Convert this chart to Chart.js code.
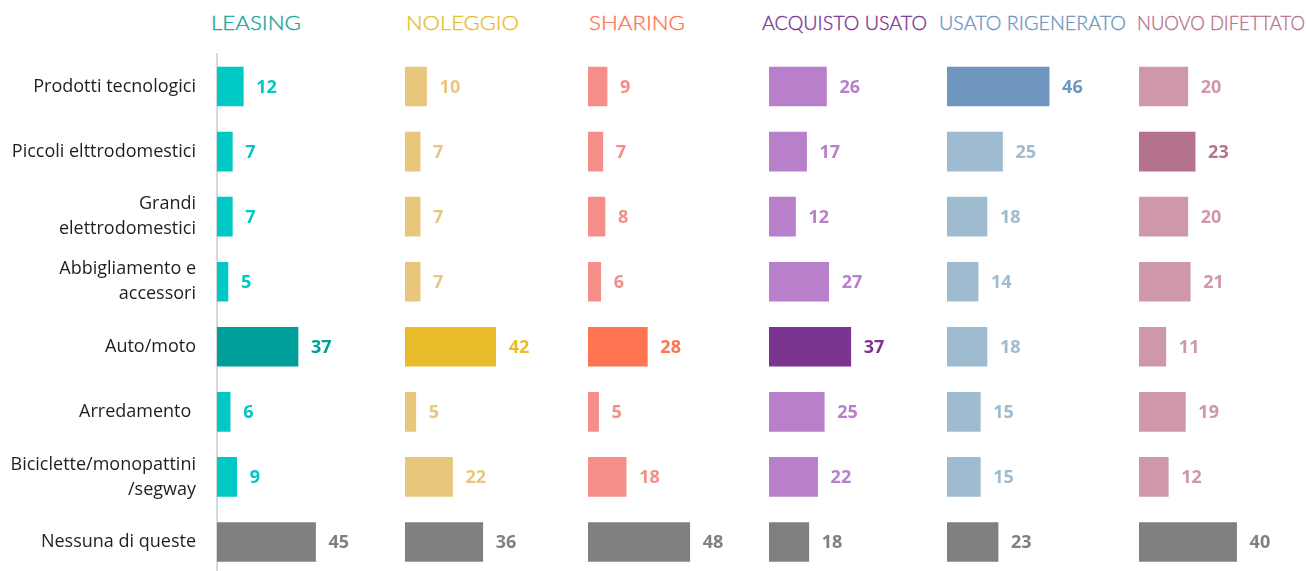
<!DOCTYPE html>
<html><head><meta charset="utf-8">
<script src="https://cdn.jsdelivr.net/npm/chart.js@4"></script>
<style>
html,body{margin:0;padding:0;width:1306px;height:571px;overflow:hidden;background:#fff;}
canvas{position:absolute;top:0;}
.hdr{position:absolute;top:8px;font-family:Lato,"Open Sans",sans-serif;font-weight:300;font-size:20.5px;line-height:28px;white-space:nowrap;transform-origin:0 0;-webkit-text-stroke:0.35px currentColor;}
</style></head><body>
<div id="root"></div>
<script>
// ---- data ----
const categories = [
  'Prodotti tecnologici',
  'Piccoli elttrodomestici',
  ['Grandi', 'elettrodomestici'],
  ['Abbigliamento e', 'accessori'],
  'Auto/moto',
  'Arredamento ',
  ['Biciclette/monopattini', '/segway'],
  'Nessuna di queste'
];
const panelTitles = ['LEASING', 'NOLEGGIO', 'SHARING', 'ACQUISTO USATO', 'USATO RIGENERATO', 'NUOVO DIFETTATO'];
const leasing    = [12, 7, 7, 5, 37, 6, 9, 45];
const noleggio   = [10, 7, 7, 7, 42, 5, 22, 36];
const sharing    = [9, 7, 8, 6, 28, 5, 18, 48];
const acquisto   = [26, 17, 12, 27, 37, 25, 22, 18];
const rigenerato = [46, 25, 18, 14, 18, 15, 15, 23];
const difettato  = [20, 23, 20, 21, 11, 19, 12, 40];
const seriesList = [leasing, noleggio, sharing, acquisto, rigenerato, difettato];

// ---- styles / layout ----
const GRAY = '#808080';
const panelStyle = [
  {left: 0,    plotLeft: 217, ppu: 2.19, normal: '#00C8C4', strong: '#009E98', strongIdx: 4, title: '#1BA39C', tx: 211, tw: 90},
  {left: 405,  plotLeft: 0,   ppu: 2.16, normal: '#E8C77D', strong: '#E9BC2C', strongIdx: 4, title: '#E9BC2C', tx: 406, tw: 113},
  {left: 588,  plotLeft: 0,   ppu: 2.12, normal: '#F58E88', strong: '#FF7552', strongIdx: 4, title: '#FF7552', tx: 589, tw: 96},
  {left: 769,  plotLeft: 0,   ppu: 2.21, normal: '#B87FCB', strong: '#7B3590', strongIdx: 4, title: '#7B3590', tx: 762, tw: 165},
  {left: 947,  plotLeft: 0,   ppu: 2.22, normal: '#9FBBD0', strong: '#6E96BE', strongIdx: 0, title: '#6E96BE', tx: 939, tw: 187},
  {left: 1139, plotLeft: 0,   ppu: 2.44, normal: '#CF97AB', strong: '#B5728D', strongIdx: 1, title: '#B5728D', tx: 1137, tw: 168}
];
const PLOT_W = 165;

const valueLabels = {
  id: 'valueLabels',
  afterDatasetsDraw(chart) {
    const ctx = chart.ctx;
    const ds = chart.data.datasets[0];
    const meta = chart.getDatasetMeta(0);
    ctx.save();
    ctx.font = 'bold 18px "Open Sans"';
    ctx.textBaseline = 'middle';
    ctx.textAlign = 'left';
    meta.data.forEach((bar, i) => {
      ctx.fillStyle = ds.backgroundColor[i];
      ctx.fillText(String(ds.data[i]), bar.x + 13, bar.y + 1);
    });
    ctx.restore();
  }
};

const root = document.getElementById('root');
panelStyle.forEach((st, p) => {
  const hdr = document.createElement('div');
  hdr.className = 'hdr';
  hdr.textContent = panelTitles[p];
  hdr.style.left = st.tx + 'px';
  hdr.style.color = st.title;
  root.appendChild(hdr);
  const w = hdr.getBoundingClientRect().width;
  hdr.style.transform = 'scaleX(' + (st.tw / w) + ')';

  const cv = document.createElement('canvas');
  const cw = st.plotLeft + PLOT_W;
  cv.width = cw; cv.height = 580;
  cv.style.left = st.left + 'px';
  cv.style.width = cw + 'px'; cv.style.height = '580px';
  root.appendChild(cv);

  const data = seriesList[p];
  const colors = data.map((v, i) => i === categories.length - 1 ? GRAY : (i === st.strongIdx ? st.strong : st.normal));

  new Chart(cv, {
    type: 'bar',
    data: {
      labels: categories,
      datasets: [{data: data, backgroundColor: colors, barThickness: 39, borderWidth: 0}]
    },
    options: {
      indexAxis: 'y',
      responsive: false,
      animation: false,
      layout: {padding: {top: 54, bottom: 5.5, left: 0, right: 0}},
      plugins: {legend: {display: false}, tooltip: {enabled: false}, title: {display: false}},
      scales: {
        x: {display: false, min: 0, max: PLOT_W / st.ppu},
        y: {
          display: p === 0,
          grid: {display: false, drawTicks: false},
          border: {display: true, color: '#d9d9d9', width: 2},
          ticks: {padding: 21, color: '#1f1f1f', font: {family: 'Open Sans', size: 18, lineHeight: 1.39}},
          afterFit: (s) => { s.width = st.plotLeft; s.paddingTop = 0; s.paddingBottom = 0; }
        }
      }
    },
    plugins: [valueLabels]
  });
});
</script>
</body></html>
